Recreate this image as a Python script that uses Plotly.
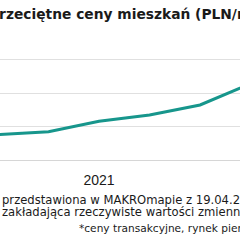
import plotly.graph_objects as go

# quarter index and average price PLN/m2
quarters = [-1, 0, 1, 2, 3, 4, 5]
prices = [5716, 5755, 5845, 6155, 6343, 6642, 7276]
y_ticks = [5000, 6000, 7000, 8000, 9000]
x_tick_vals = [2]
x_tick_text = ["2021"]

W, H = 240, 240
TOP, BOT = 26, 160  # plot area in px


def px(x):
    return x / W


def py(y):
    return (BOT - y) / (BOT - TOP)


fig = go.Figure()
fig.add_trace(go.Scatter(x=quarters, y=prices, mode="lines",
                         line=dict(color="#17968c", width=3), hoverinfo="skip"))

fig.update_layout(
    width=W, height=H,
    margin=dict(l=0, r=0, t=TOP, b=H - BOT),
    paper_bgcolor="white", plot_bgcolor="white",
    showlegend=False,
    xaxis=dict(range=[0.04, 4.79], tickvals=x_tick_vals, ticktext=x_tick_text,
               showgrid=False, zeroline=False, showline=True, linecolor="#d6d6d6",
               linewidth=1, ticks="", ticklabelstandoff=7,
               tickfont=dict(family="Liberation Sans", size=14, color="#1a1a1a")),
    yaxis=dict(range=[5000, 9000], tickvals=y_ticks, showticklabels=False,
               showgrid=True, gridcolor="#e0e0e0", gridwidth=1, zeroline=False,
               showline=False),
)

font_b = dict(family="DejaVu Sans", size=13.8, color="#1a1a1a")
fig.add_annotation(xref="paper", yref="paper", x=px(-13), y=py(14), xanchor="left", yanchor="middle",
                   text="<b>Przeciętne ceny mieszkań (PLN/m²)*</b>", showarrow=False, font=font_b)

font_n = dict(family="DejaVu Sans", size=11.6, color="#1a1a1a")
fig.add_annotation(xref="paper", yref="paper", x=px(0), y=py(200), xanchor="left", yanchor="middle",
                   text="przedstawiona w MAKROmapie z 19.04.2022 r.", showarrow=False, font=font_n)
fig.add_annotation(xref="paper", yref="paper", x=px(0), y=py(211.5), xanchor="left", yanchor="middle",
                   text="zakładająca rzeczywiste wartości zmiennych", showarrow=False, font=font_n)
fig.add_annotation(xref="paper", yref="paper", x=px(77), y=py(228), xanchor="left", yanchor="middle",
                   text="*ceny transakcyjne, rynek pierwotny", showarrow=False,
                   font=dict(family="DejaVu Sans", size=10.6, color="#1a1a1a"))

fig.write_html("out.html")
